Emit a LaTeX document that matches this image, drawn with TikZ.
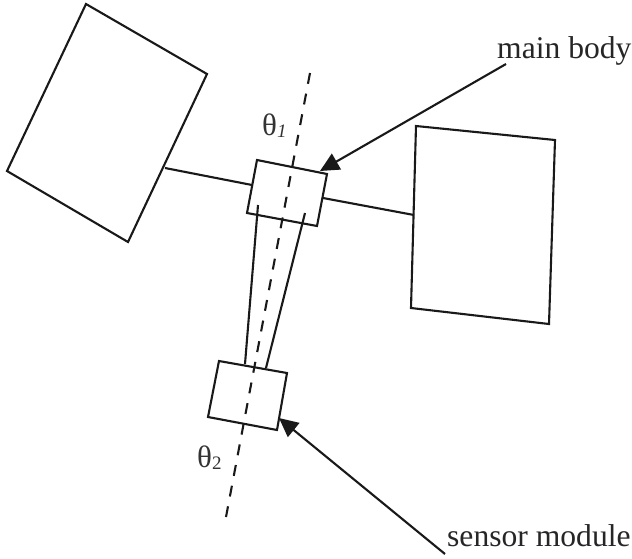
\documentclass[tikz,border=0pt]{standalone}
\usepackage{fontspec}
\setmainfont{Liberation Serif}
\usetikzlibrary{arrows.meta}
\tikzset{
  shape line/.style={draw=black!90,line width=2.1pt,line join=miter},
  link line/.style={draw=black!90,line width=2.1pt},
  axis line/.style={draw=black!90,line width=2.1pt,dash pattern=on 11pt off 10pt},
  call line/.style={draw=black!90,line width=2.1pt,-{Triangle[length=19pt,width=18pt]}},
  lab/.style={inner sep=0pt,font=\fontsize{31.6}{33}\selectfont,text=black!85},
  ang/.style={inner sep=0pt,font=\fontsize{31}{33}\selectfont,text=black!80}
}
\begin{document}
\begin{tikzpicture}[x=1pt,y=-1pt]
\useasboundingbox (0,0) rectangle (632,558);
\fill[white] (0,0) rectangle (632,558);
\coordinate (axT) at (310,73);
\coordinate (axB) at (226,517);
\draw[axis line] (axT) -- (axB);
\draw[shape line] (86,4) -- (207,74) -- (128,242) -- (7,171) -- cycle;
\draw[shape line] (416,126) -- (555,140) -- (549,324) -- (411,308) -- cycle;
\coordinate (armLa) at (165,168);
\coordinate (armLb) at (252,185);
\coordinate (armRa) at (323,198);
\coordinate (armRb) at (414,215);
\draw[link line] (armLa) -- (armLb);
\draw[link line] (armRa) -- (armRb);
\draw[shape line] (257,160) -- (327,174) -- (317,226) -- (247,213) -- cycle;
\draw[shape line] (219,361) -- (287,373) -- (277,430) -- (208,417) -- cycle;
\coordinate (tA) at (258,205);
\coordinate (tB) at (245,364);
\coordinate (tC) at (305,213);
\coordinate (tD) at (266,368);
\draw[link line] (tA) -- (tB);
\draw[link line] (tC) -- (tD);
\coordinate (mbS) at (506,64);
\coordinate (mbE) at (320,171);
\coordinate (smS) at (445,554);
\coordinate (smE) at (279,418);
\draw[call line] (mbS) -- (mbE);
\draw[call line] (smS) -- (smE);
\node[lab,anchor=base west] (mb) at (497,58) {main body};
\node[lab,anchor=base west] (sm) at (447,546) {sensor module};
\node[ang,anchor=base west] (t1) at (262,135) {θ\raisebox{-2pt}{\fontsize{19}{19}\selectfont\itshape 1}};
\node[ang,anchor=base west] (t2) at (197,467) {θ\raisebox{-2pt}{\fontsize{19}{19}\selectfont 2}};
\end{tikzpicture}
\end{document}
